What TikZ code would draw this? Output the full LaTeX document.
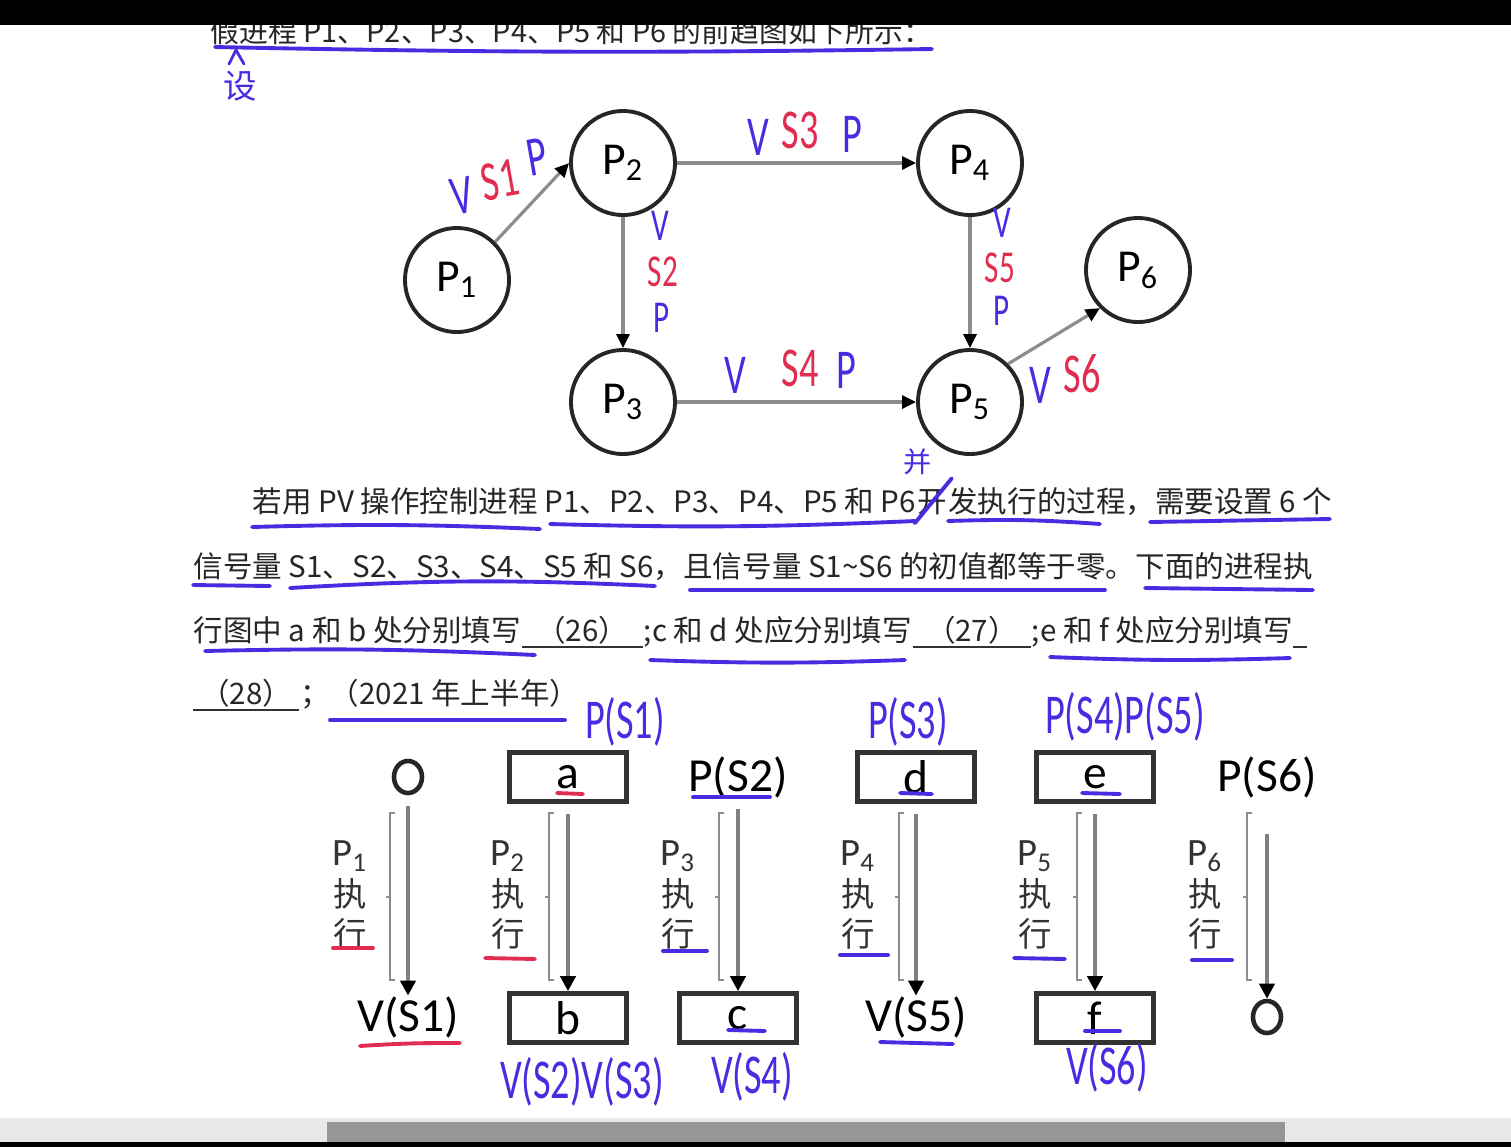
\documentclass[tikz,border=0pt]{standalone}
\usepackage{fontspec}
\setmainfont{Noto Sans CJK SC}
\newfontfamily\cjk{Noto Sans CJK SC}
\newfontfamily\carlito{Carlito}
\newfontfamily\hand[FakeStretch=0.68]{Carlito}
\usetikzlibrary{positioning,arrows.meta,calc,shapes.geometric}
\definecolor{penblue}{RGB}{70,45,225}
\definecolor{penred}{RGB}{225,45,80}
\definecolor{barlight}{RGB}{232,232,232}
\definecolor{bardark}{RGB}{150,150,150}

\begin{document}
\begin{tikzpicture}[
    x=0.01cm, y=-0.01cm,
    proc/.style={circle, draw=black!85, line width=1.1pt, minimum size=1.04cm, inner sep=0pt, font=\carlito\fontsize{13}{13}\selectfont},
    prec/.style={draw=black!45, line width=0.9pt, -{Triangle[color=black, length=1.4mm, width=1.3mm]}},
    slot/.style={rectangle, draw=black!80, line width=1.3pt, minimum width=1.17cm, minimum height=0.49cm, inner sep=0pt, font=\carlito\fontsize{13.5}{13.5}\selectfont},
    sem/.style={inner sep=0pt, font=\carlito\fontsize{13.5}{13.5}\selectfont},
    endmark/.style={ellipse, draw=black!85, line width=1.3pt, minimum width=0.28cm, minimum height=0.32cm, inner sep=0pt},
    flow/.style={draw=black!50, line width=1.3pt, shorten <=3pt, -{Triangle[color=black, length=1.5mm, width=1.5mm]}},
    brk/.style={draw=black!45, line width=0.6pt},
    run/.style={inner sep=0pt, align=center, font=\fontsize{9.5}{11.4}\selectfont, text=black!80},
    txt/.style={anchor=base west, inner sep=0pt, font=\fontsize{8.4}{10}\selectfont, text=black!85},
    blank/.style={txt, minimum width=#1, align=center},
    pen/.style={inner sep=0pt, text=penblue, font=\hand\fontsize{16}{16}\selectfont},
    penr/.style={pen, text=penred},
    pens/.style={pen, font=\hand\fontsize{13}{13}\selectfont},
    pensr/.style={pens, text=penred},
    ul/.style={draw=penblue, line width=1.1pt, line cap=round},
    ulr/.style={ul, draw=penred}
]
\useasboundingbox (0,0) rectangle (1511,1147);
\fill[white] (0,0) rectangle (1511,1147);

% question text
\node[txt, font=\fontsize{8.2}{10}\selectfont] (head) at (210,42) {假进程 P1、P2、P3、P4、P5 和 P6 的前趋图如下所示：};
\fill[black] (0,0) rectangle (1511,25);

\node[txt] (l1a) at (252,512) {若用 PV 操作控制进程 P1、P2、P3、P4、P5 和 P6 };
\node[txt] (kai) at (l1a.base east) {开};
\node[txt] (l1b) at (kai.base east) {发执行的过程，需要设置 6 个};
\node[txt] (l2) at (193,577) {信号量 S1、S2、S3、S4、S5 和 S6，且信号量 S1\textasciitilde S6 的初值都等于零。下面的进程执};
\node[txt] (l3a) at (193,641) {行图中 a 和 b 处分别填写};
\node[blank=1.2cm] (q26) at (l3a.base east) {（26）};
\node[txt] (l3b) at (q26.base east) {;c 和 d 处应分别填写};
\node[blank=1.17cm] (q27) at (l3b.base east) {（27）};
\node[txt] (l3c) at (q27.base east) {;e 和 f 处应分别填写};
\node[blank=0.12cm] (q28a) at (l3c.base east) {};
\node[blank=1.05cm] (q28) at (193,704) {（28）};
\node[txt] (l4) at (q28.base east) {；（2021 年上半年）};

\draw[black!80, line width=0.8pt] ($(q26.base west)+(0,6)$) -- ($(q26.base east)+(0,6)$);
\draw[black!80, line width=0.8pt] ($(q27.base west)+(0,6)$) -- ($(q27.base east)+(0,6)$);
\draw[black!80, line width=0.8pt] ($(q28a.base west)+(0,6)$) -- ($(q28a.base east)+(0,6)$);
\draw[black!80, line width=0.8pt] ($(q28.base west)+(0,6)$) -- ($(q28.base east)+(0,6)$);

% precedence graph
\node[proc] (P1) at (457,280) {P\textsubscript{1}};
\node[proc] (P2) at (623,163) {P\textsubscript{2}};
\node[proc] (P4) at (970,163) {P\textsubscript{4}};
\node[proc] (P3) at (623,402) {P\textsubscript{3}};
\node[proc] (P5) at (970,402) {P\textsubscript{5}};
\node[proc] (P6) at (1138,270) {P\textsubscript{6}};

\draw[prec] (P1.45) -- (P2.west);
\draw[prec] (P2.east) -- (P4.west);
\draw[prec] (P2.south) -- (P3.north);
\draw[prec] (P4.south) -- (P5.north);
\draw[prec] (P3.east) -- (P5.west);
\draw[prec] (P5.45) -- (P6.225);

% pen notes on the graph
\node[pen, rotate=10] (v12) at (462,196) {V};
\node[penr, rotate=10] (s12) at (500,180) {S1};
\node[pen, rotate=10] (p12) at (537,157) {P};
\node[pen] (v24) at (758,137) {V};
\node[penr] (s24) at (800,130) {S3};
\node[pen] (p24) at (852,134) {P};
\node[pens] (v23) at (660,226) {V};
\node[pensr] (s23) at (663,272) {S2};
\node[pens] (p23) at (662,318) {P};
\node[pens] (v45) at (1002,223) {V};
\node[pensr] (s45) at (1000,268) {S5};
\node[pens] (p45) at (1002,311) {P};
\node[pen] (v35) at (735,375) {V};
\node[penr] (s35) at (800,368) {S4};
\node[pen] (p35) at (846,370) {P};
\node[pen] (v56) at (1040,385) {V};
\node[penr] (s56) at (1082,374) {S6};

\node[pen, font=\cjk\fontsize{8}{8}\selectfont] (bing) at (918,462) {并};
\draw[ul] ($(kai.south west)+(-2,8)$) -- ($(kai.north east)+(4,-10)$);
\node[pen, font=\cjk\fontsize{9.5}{9.5}\selectfont] (she) at (240,86) {设};
\draw[ul, line width=0.8pt] (229,64) -- (236,50) -- (244,64);

% text underlines
\draw[ul] (215,47) to[bend right=1] (932,49);
\draw[ul] (252,527) to[bend left=2] (540,529);
\draw[ul] (550,524) to[bend right=2] (915,521);
\draw[ul] (948,521) to[bend left=3] (1100,524);
\draw[ul] (1150,522) -- (1330,519);
\draw[ul] (193,585) -- (270,586);
\draw[ul] (290,588) to[bend left=3] (655,586);
\draw[ul] (690,590) -- (1105,590);
\draw[ul] (1145,588) -- (1313,590);
\draw[ul] (205,651) to[bend left=2] (535,655);
\draw[ul] (650,660) to[bend right=2] (905,660);
\draw[ul] (1050,657) to[bend right=2] (1290,658);
\draw[ul] (330,720) -- (565,720);

% execution diagram
\node[endmark] (o1) at (408,777) {};
\node[slot] (a) at (568,777) {a};
\node[sem] (ps2) at (738,777) {P(S2)};
\node[slot] (d) at (916,777) {d};
\node[slot] (e) at (1095,777) {e};
\node[sem] (ps6) at (1267,777) {P(S6)};

\node[sem] (vs1) at (408,1017) {V(S1)};
\node[slot] (b) at (568,1018) {b};
\node[slot] (c) at (738,1018) {c};
\node[sem] (vs5) at (916,1017) {V(S5)};
\node[slot] (f) at (1095,1018) {f};
\node[endmark] (o6) at (1267,1017) {};

\draw[flow] (o1) -- (vs1);
\draw[flow] (a) -- (b);
\draw[flow] (ps2) -- (c);
\draw[flow] (d) -- (vs5);
\draw[flow] (e) -- (f);
\draw[flow, shorten <=10pt] (ps6) -- (o6);

\draw[brk] (395,813) -- (390,813) -- (390,980) -- (395,980) (390,897) -- (386,897);
\draw[brk] (554,813) -- (549,813) -- (549,980) -- (554,980) (549,897) -- (545,897);
\draw[brk] (724,813) -- (719,813) -- (719,980) -- (724,980) (719,897) -- (715,897);
\draw[brk] (904,813) -- (899,813) -- (899,980) -- (904,980) (899,897) -- (895,897);
\draw[brk] (1082,813) -- (1077,813) -- (1077,980) -- (1082,980) (1077,897) -- (1073,897);
\draw[brk] (1252,813) -- (1247,813) -- (1247,980) -- (1252,980) (1247,897) -- (1243,897);

\node[run] (r1) at (350,895) {{\carlito\fontsize{11}{11.4}\selectfont P\textsubscript{1}}\\执\\行};
\node[run] (r2) at (508,895) {{\carlito\fontsize{11}{11.4}\selectfont P\textsubscript{2}}\\执\\行};
\node[run] (r3) at (678,895) {{\carlito\fontsize{11}{11.4}\selectfont P\textsubscript{3}}\\执\\行};
\node[run] (r4) at (858,895) {{\carlito\fontsize{11}{11.4}\selectfont P\textsubscript{4}}\\执\\行};
\node[run] (r5) at (1035,895) {{\carlito\fontsize{11}{11.4}\selectfont P\textsubscript{5}}\\执\\行};
\node[run] (r6) at (1205,895) {{\carlito\fontsize{11}{11.4}\selectfont P\textsubscript{6}}\\执\\行};

% pen notes on the execution diagram
\node[pen] (na) at (625,722) {P(S1)};
\node[pen] (nd) at (908,722) {P(S3)};
\node[pen] (ne) at (1125,717) {P(S4)P(S5)};
\node[pen] (nb) at (582,1082) {V(S2)V(S3)};
\node[pen] (nc) at (752,1077) {V(S4)};
\node[pen] (nf) at (1107,1068) {V(S6)};

\draw[ulr] (557,793) -- (583,794);
\draw[ulr] (333,948) -- (373,948);
\draw[ulr] (485,958) -- (535,959);
\draw[ulr] (360,1046) to[bend left=2] (460,1043);
\draw[ul] (693,797) -- (770,797);
\draw[ul] (663,951) -- (707,951);
\draw[ul] (728,1030) -- (765,1031);
\draw[ul] (900,793) -- (932,794);
\draw[ul] (1082,793) -- (1120,794);
\draw[ul] (840,955) -- (888,955);
\draw[ul] (1014,958) -- (1065,959);
\draw[ul] (1192,960) -- (1232,960);
\draw[ul] (880,1042) -- (953,1044);
\draw[ul] (1085,1031) -- (1120,1031);

% scroll bar
\fill[barlight] (0,1118) rectangle (1511,1142);
\fill[bardark] (327,1122) rectangle (1285,1142);
\fill[black] (0,1142) rectangle (1511,1147);
\end{tikzpicture}
\end{document}
